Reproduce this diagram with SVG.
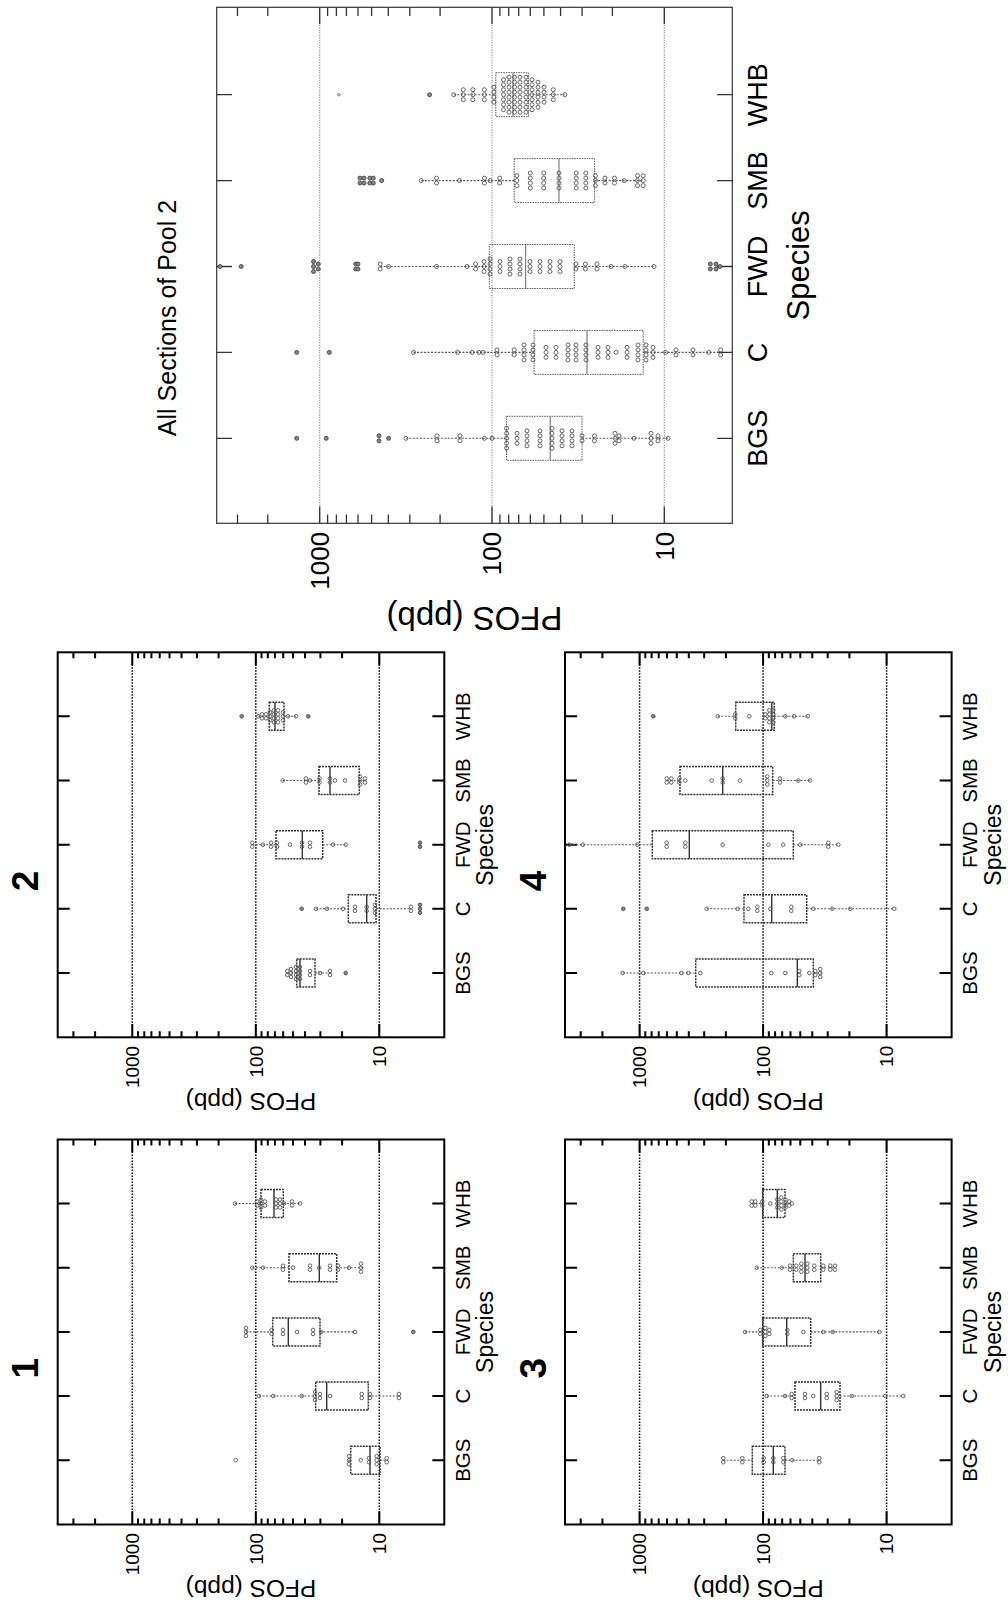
<svg xmlns="http://www.w3.org/2000/svg" xmlns:xlink="http://www.w3.org/1999/xlink" width="1008" height="1608" viewBox="0 0 1008 1608">
<style>
.fr{fill:none;stroke:#000;stroke-width:2}
.frb{fill:none;stroke:#333;stroke-width:1.2}
.tk{stroke:#000;stroke-width:2;fill:none}
.tkb{stroke:#333;stroke-width:1.3;fill:none}
.gd{stroke:#000;stroke-width:1.5;stroke-dasharray:1.5 1.5}
.gdb{stroke:#666;stroke-width:1;stroke-dasharray:1 1.5}
.bx{fill:none;stroke:#333;stroke-width:1.5;stroke-dasharray:2 1}
.bxb{fill:none;stroke:#555;stroke-width:1;stroke-dasharray:1.5 1}
.md{stroke:#333;stroke-width:1.4}
.wk{stroke:#555;stroke-width:1.1;stroke-dasharray:2 1.5}
.pts circle{fill:none;stroke:#555;stroke-width:.9}
.out circle{fill:#888;stroke:#444;stroke-width:.9}
text{font-family:"Liberation Sans",Arial,Helvetica,sans-serif;fill:#000}
.ax{font-size:19px;text-anchor:end}
.cat{font-size:20.5px;text-anchor:middle}
.sp{font-size:23px;text-anchor:middle}
.yl{font-size:24.5px;text-anchor:middle}
.ttl{font-size:37px;font-weight:bold;text-anchor:middle}
.axb{font-size:26px;text-anchor:end}
.catb{font-size:27px;text-anchor:middle}
.spb{font-size:31px;text-anchor:middle}
.ylb{font-size:33px;text-anchor:middle}
.ttlb{font-size:25px;text-anchor:middle}
</style>
<defs>
<g id="smallAxes">
<rect class="fr" x="57.7" y="652.3" width="386.6" height="385"/>
<path class="gd" d="M132.3 652.3V1037.3M255.8 652.3V1037.3M379.3 652.3V1037.3"/>
<path class="tk" d="M132.3 652.3v13.3M255.8 652.3v13.3M379.3 652.3v13.3M132.3 1037.3v-13.3M255.8 1037.3v-13.3M379.3 1037.3v-13.3
M73.4 652.3v6M95.1 652.3v6M138 652.3v6M144.3 652.3v6M151.4 652.3v6M159.7 652.3v6M169.5 652.3v6M181.5 652.3v6M196.9 652.3v6M218.6 652.3v6M261.5 652.3v6M267.8 652.3v6M274.9 652.3v6M283.2 652.3v6M293 652.3v6M305 652.3v6M320.4 652.3v6M342.1 652.3v6
M73.4 1037.3v-6M95.1 1037.3v-6M138 1037.3v-6M144.3 1037.3v-6M151.4 1037.3v-6M159.7 1037.3v-6M169.5 1037.3v-6M181.5 1037.3v-6M196.9 1037.3v-6M218.6 1037.3v-6M261.5 1037.3v-6M267.8 1037.3v-6M274.9 1037.3v-6M283.2 1037.3v-6M293 1037.3v-6M305 1037.3v-6M320.4 1037.3v-6M342.1 1037.3v-6
M57.7 716.3h12M57.7 780.5h12M57.7 844.7h12M57.7 908.8h12M57.7 973h12
M444.3 716.3h-12M444.3 780.5h-12M444.3 844.7h-12M444.3 908.8h-12M444.3 973h-12"/>
</g>
</defs>

<g id="panel-all">
<rect class="frb" x="216.7" y="7.3" width="515.6" height="516"/>
<path class="gdb" d="M319.7 7.3V523.3M492 7.3V523.3M664.3 7.3V523.3"/>
<path class="tkb" d="M319.7 7.3v16.7M492 7.3v16.7M664.3 7.3v16.7M319.7 523.3v-16.7M492 523.3v-16.7M664.3 523.3v-16.7
M237.5 7.3v8.7M267.8 7.3v8.7M327.6 7.3v8.7M336.4 7.3v8.7M346.4 7.3v8.7M358 7.3v8.7M371.6 7.3v8.7M388.3 7.3v8.7M409.8 7.3v8.7M440.1 7.3v8.7M499.9 7.3v8.7M508.7 7.3v8.7M518.7 7.3v8.7M530.3 7.3v8.7M543.9 7.3v8.7M560.6 7.3v8.7M582.1 7.3v8.7M612.4 7.3v8.7
M237.5 523.3v-8.7M267.8 523.3v-8.7M327.6 523.3v-8.7M336.4 523.3v-8.7M346.4 523.3v-8.7M358 523.3v-8.7M371.6 523.3v-8.7M388.3 523.3v-8.7M409.8 523.3v-8.7M440.1 523.3v-8.7M499.9 523.3v-8.7M508.7 523.3v-8.7M518.7 523.3v-8.7M530.3 523.3v-8.7M543.9 523.3v-8.7M560.6 523.3v-8.7M582.1 523.3v-8.7M612.4 523.3v-8.7
M216.7 94.7h15.3M216.7 180.6h15.3M216.7 266.5h15.3M216.7 352.4h15.3M216.7 438.3h15.3
M732.3 94.7h-15.3M732.3 180.6h-15.3M732.3 266.5h-15.3M732.3 352.4h-15.3M732.3 438.3h-15.3"/>
<g id="all-boxes">
<path class="wk" d="M453.7 94.7H495.8M528.4 94.7H564.8M421.2 180.6H514.2M594.6 180.6H643.2M380.2 266.5H489.3M574.3 266.5H654M413.5 352.4H534.1M643.2 352.4H720.6M405.9 438.3H506.6M582 438.3H668.1"/>
<rect class="bxb" x="495.8" y="72.7" width="32.6" height="44"/>
<rect class="bxb" x="514.2" y="158.6" width="80.4" height="44"/>
<rect class="bxb" x="489.3" y="244.5" width="85" height="44"/>
<rect class="bxb" x="534.1" y="330.4" width="109.1" height="44"/>
<rect class="bxb" x="506.6" y="416.3" width="75.4" height="44"/>
<path class="md" style="stroke:#666;stroke-width:1" d="M513 72.7V116.7M559 158.6V202.6M525.7 244.5V288.5M587 330.4V374.4M550.2 416.3V460.3"/>
</g>
<g class="pts">
<circle cx="453.7" cy="94.7" r="2"/>
<circle cx="463.3" cy="89.7" r="2"/><circle cx="463.3" cy="94.7" r="2"/><circle cx="463.3" cy="99.7" r="2"/>
<circle cx="472.9" cy="89.7" r="2"/><circle cx="472.9" cy="94.7" r="2"/><circle cx="472.9" cy="99.7" r="2"/>
<circle cx="484.4" cy="89.7" r="2"/><circle cx="484.4" cy="94.7" r="2"/><circle cx="484.4" cy="99.7" r="2"/>
<circle cx="493.9" cy="87.2" r="2"/><circle cx="493.9" cy="92.2" r="2"/><circle cx="493.9" cy="97.2" r="2"/><circle cx="493.9" cy="102.2" r="2"/>
<circle cx="503.5" cy="79.7" r="2"/><circle cx="503.5" cy="84.7" r="2"/><circle cx="503.5" cy="89.7" r="2"/><circle cx="503.5" cy="94.7" r="2"/><circle cx="503.5" cy="99.7" r="2"/><circle cx="503.5" cy="104.7" r="2"/><circle cx="503.5" cy="109.7" r="2"/>
<circle cx="509" cy="77.2" r="2"/><circle cx="509" cy="82.2" r="2"/><circle cx="509" cy="87.2" r="2"/><circle cx="509" cy="92.2" r="2"/><circle cx="509" cy="97.2" r="2"/><circle cx="509" cy="102.2" r="2"/><circle cx="509" cy="107.2" r="2"/><circle cx="509" cy="112.2" r="2"/>
<circle cx="514.5" cy="77.2" r="2"/><circle cx="514.5" cy="82.2" r="2"/><circle cx="514.5" cy="87.2" r="2"/><circle cx="514.5" cy="92.2" r="2"/><circle cx="514.5" cy="97.2" r="2"/><circle cx="514.5" cy="102.2" r="2"/><circle cx="514.5" cy="107.2" r="2"/><circle cx="514.5" cy="112.2" r="2"/>
<circle cx="520" cy="77.2" r="2"/><circle cx="520" cy="82.2" r="2"/><circle cx="520" cy="87.2" r="2"/><circle cx="520" cy="92.2" r="2"/><circle cx="520" cy="97.2" r="2"/><circle cx="520" cy="102.2" r="2"/><circle cx="520" cy="107.2" r="2"/><circle cx="520" cy="112.2" r="2"/>
<circle cx="526" cy="77.2" r="2"/><circle cx="526" cy="82.2" r="2"/><circle cx="526" cy="87.2" r="2"/><circle cx="526" cy="92.2" r="2"/><circle cx="526" cy="97.2" r="2"/><circle cx="526" cy="102.2" r="2"/><circle cx="526" cy="107.2" r="2"/><circle cx="526" cy="112.2" r="2"/>
<circle cx="532" cy="79.7" r="2"/><circle cx="532" cy="84.7" r="2"/><circle cx="532" cy="89.7" r="2"/><circle cx="532" cy="94.7" r="2"/><circle cx="532" cy="99.7" r="2"/><circle cx="532" cy="104.7" r="2"/><circle cx="532" cy="109.7" r="2"/>
<circle cx="538" cy="82.2" r="2"/><circle cx="538" cy="87.2" r="2"/><circle cx="538" cy="92.2" r="2"/><circle cx="538" cy="97.2" r="2"/><circle cx="538" cy="102.2" r="2"/><circle cx="538" cy="107.2" r="2"/>
<circle cx="544" cy="87.2" r="2"/><circle cx="544" cy="92.2" r="2"/><circle cx="544" cy="97.2" r="2"/><circle cx="544" cy="102.2" r="2"/>
<circle cx="553.3" cy="89.7" r="2"/><circle cx="553.3" cy="94.7" r="2"/><circle cx="553.3" cy="99.7" r="2"/>
<circle cx="564.8" cy="94.7" r="2"/>
<circle cx="338.8" cy="94.7" r="1.2"/>
<circle cx="421.2" cy="180.6" r="2"/>
<circle cx="436.5" cy="178.1" r="2"/><circle cx="436.5" cy="183.1" r="2"/>
<circle cx="459.5" cy="180.6" r="2"/>
<circle cx="484.4" cy="178.1" r="2"/><circle cx="484.4" cy="183.1" r="2"/>
<circle cx="490.1" cy="180.6" r="2"/>
<circle cx="499.7" cy="178.1" r="2"/><circle cx="499.7" cy="183.1" r="2"/>
<circle cx="516.9" cy="175.6" r="2"/><circle cx="516.9" cy="180.6" r="2"/><circle cx="516.9" cy="185.6" r="2"/>
<circle cx="530.3" cy="173.1" r="2"/><circle cx="530.3" cy="178.1" r="2"/><circle cx="530.3" cy="183.1" r="2"/><circle cx="530.3" cy="188.1" r="2"/>
<circle cx="543.7" cy="173.1" r="2"/><circle cx="543.7" cy="178.1" r="2"/><circle cx="543.7" cy="183.1" r="2"/><circle cx="543.7" cy="188.1" r="2"/>
<circle cx="559" cy="173.1" r="2"/><circle cx="559" cy="178.1" r="2"/><circle cx="559" cy="183.1" r="2"/><circle cx="559" cy="188.1" r="2"/>
<circle cx="576.2" cy="173.1" r="2"/><circle cx="576.2" cy="178.1" r="2"/><circle cx="576.2" cy="183.1" r="2"/><circle cx="576.2" cy="188.1" r="2"/>
<circle cx="585.8" cy="173.1" r="2"/><circle cx="585.8" cy="178.1" r="2"/><circle cx="585.8" cy="183.1" r="2"/><circle cx="585.8" cy="188.1" r="2"/>
<circle cx="595.4" cy="175.6" r="2"/><circle cx="595.4" cy="180.6" r="2"/><circle cx="595.4" cy="185.6" r="2"/>
<circle cx="605" cy="178.1" r="2"/><circle cx="605" cy="183.1" r="2"/>
<circle cx="614.5" cy="178.1" r="2"/><circle cx="614.5" cy="183.1" r="2"/>
<circle cx="624.1" cy="180.6" r="2"/>
<circle cx="637.5" cy="175.6" r="2"/><circle cx="637.5" cy="180.6" r="2"/><circle cx="637.5" cy="185.6" r="2"/>
<circle cx="643.2" cy="175.6" r="2"/><circle cx="643.2" cy="180.6" r="2"/><circle cx="643.2" cy="185.6" r="2"/>
<circle cx="380.2" cy="264" r="2"/><circle cx="380.2" cy="269" r="2"/>
<circle cx="388.6" cy="266.5" r="2"/>
<circle cx="436.5" cy="266.5" r="2"/>
<circle cx="467" cy="266.5" r="2"/>
<circle cx="475.6" cy="264" r="2"/><circle cx="475.6" cy="269" r="2"/>
<circle cx="484" cy="261.5" r="2"/><circle cx="484" cy="266.5" r="2"/><circle cx="484" cy="271.5" r="2"/>
<circle cx="490" cy="259" r="2"/><circle cx="490" cy="264" r="2"/><circle cx="490" cy="269" r="2"/><circle cx="490" cy="274" r="2"/>
<circle cx="500" cy="261.5" r="2"/><circle cx="500" cy="266.5" r="2"/><circle cx="500" cy="271.5" r="2"/>
<circle cx="510" cy="259" r="2"/><circle cx="510" cy="264" r="2"/><circle cx="510" cy="269" r="2"/><circle cx="510" cy="274" r="2"/>
<circle cx="520" cy="259" r="2"/><circle cx="520" cy="264" r="2"/><circle cx="520" cy="269" r="2"/><circle cx="520" cy="274" r="2"/>
<circle cx="530" cy="261.5" r="2"/><circle cx="530" cy="266.5" r="2"/><circle cx="530" cy="271.5" r="2"/>
<circle cx="540" cy="261.5" r="2"/><circle cx="540" cy="266.5" r="2"/><circle cx="540" cy="271.5" r="2"/>
<circle cx="550" cy="261.5" r="2"/><circle cx="550" cy="266.5" r="2"/><circle cx="550" cy="271.5" r="2"/>
<circle cx="560" cy="261.5" r="2"/><circle cx="560" cy="266.5" r="2"/><circle cx="560" cy="271.5" r="2"/>
<circle cx="575.9" cy="264" r="2"/><circle cx="575.9" cy="269" r="2"/>
<circle cx="585.4" cy="264" r="2"/><circle cx="585.4" cy="269" r="2"/>
<circle cx="597" cy="264" r="2"/><circle cx="597" cy="269" r="2"/>
<circle cx="611" cy="266.5" r="2"/>
<circle cx="625" cy="266.5" r="2"/>
<circle cx="654" cy="266.5" r="2"/>
<circle cx="413.5" cy="352.4" r="2"/>
<circle cx="457.5" cy="352.4" r="2"/>
<circle cx="472" cy="352.4" r="2"/>
<circle cx="479" cy="352.4" r="2"/>
<circle cx="483" cy="352.4" r="2"/>
<circle cx="497" cy="349.9" r="2"/><circle cx="497" cy="354.9" r="2"/>
<circle cx="514.2" cy="349.9" r="2"/><circle cx="514.2" cy="354.9" r="2"/>
<circle cx="524" cy="344.9" r="2"/><circle cx="524" cy="349.9" r="2"/><circle cx="524" cy="354.9" r="2"/><circle cx="524" cy="359.9" r="2"/>
<circle cx="533" cy="344.9" r="2"/><circle cx="533" cy="349.9" r="2"/><circle cx="533" cy="354.9" r="2"/><circle cx="533" cy="359.9" r="2"/>
<circle cx="546" cy="347.4" r="2"/><circle cx="546" cy="352.4" r="2"/><circle cx="546" cy="357.4" r="2"/>
<circle cx="556" cy="347.4" r="2"/><circle cx="556" cy="352.4" r="2"/><circle cx="556" cy="357.4" r="2"/>
<circle cx="568" cy="344.9" r="2"/><circle cx="568" cy="349.9" r="2"/><circle cx="568" cy="354.9" r="2"/><circle cx="568" cy="359.9" r="2"/>
<circle cx="576" cy="344.9" r="2"/><circle cx="576" cy="349.9" r="2"/><circle cx="576" cy="354.9" r="2"/><circle cx="576" cy="359.9" r="2"/>
<circle cx="586" cy="344.9" r="2"/><circle cx="586" cy="349.9" r="2"/><circle cx="586" cy="354.9" r="2"/><circle cx="586" cy="359.9" r="2"/>
<circle cx="598" cy="347.4" r="2"/><circle cx="598" cy="352.4" r="2"/><circle cx="598" cy="357.4" r="2"/>
<circle cx="608" cy="347.4" r="2"/><circle cx="608" cy="352.4" r="2"/><circle cx="608" cy="357.4" r="2"/>
<circle cx="616" cy="352.4" r="2"/>
<circle cx="627" cy="347.4" r="2"/><circle cx="627" cy="352.4" r="2"/><circle cx="627" cy="357.4" r="2"/>
<circle cx="638" cy="344.9" r="2"/><circle cx="638" cy="349.9" r="2"/><circle cx="638" cy="354.9" r="2"/><circle cx="638" cy="359.9" r="2"/>
<circle cx="646" cy="344.9" r="2"/><circle cx="646" cy="349.9" r="2"/><circle cx="646" cy="354.9" r="2"/><circle cx="646" cy="359.9" r="2"/>
<circle cx="653" cy="347.4" r="2"/><circle cx="653" cy="352.4" r="2"/><circle cx="653" cy="357.4" r="2"/>
<circle cx="665.5" cy="352.4" r="2"/>
<circle cx="676" cy="349.9" r="2"/><circle cx="676" cy="354.9" r="2"/>
<circle cx="693" cy="349.9" r="2"/><circle cx="693" cy="354.9" r="2"/>
<circle cx="708.6" cy="352.4" r="2"/>
<circle cx="720.6" cy="349.9" r="2"/><circle cx="720.6" cy="354.9" r="2"/>
<circle cx="405.9" cy="438.3" r="2"/>
<circle cx="437" cy="435.8" r="2"/><circle cx="437" cy="440.8" r="2"/>
<circle cx="460" cy="435.8" r="2"/><circle cx="460" cy="440.8" r="2"/>
<circle cx="484.4" cy="438.3" r="2"/>
<circle cx="492" cy="438.3" r="2"/>
<circle cx="506.6" cy="428.3" r="2"/><circle cx="506.6" cy="433.3" r="2"/><circle cx="506.6" cy="438.3" r="2"/><circle cx="506.6" cy="443.3" r="2"/><circle cx="506.6" cy="448.3" r="2"/>
<circle cx="517" cy="433.3" r="2"/><circle cx="517" cy="438.3" r="2"/><circle cx="517" cy="443.3" r="2"/>
<circle cx="527" cy="430.8" r="2"/><circle cx="527" cy="435.8" r="2"/><circle cx="527" cy="440.8" r="2"/><circle cx="527" cy="445.8" r="2"/>
<circle cx="540" cy="430.8" r="2"/><circle cx="540" cy="435.8" r="2"/><circle cx="540" cy="440.8" r="2"/><circle cx="540" cy="445.8" r="2"/>
<circle cx="552" cy="428.3" r="2"/><circle cx="552" cy="433.3" r="2"/><circle cx="552" cy="438.3" r="2"/><circle cx="552" cy="443.3" r="2"/><circle cx="552" cy="448.3" r="2"/>
<circle cx="562" cy="430.8" r="2"/><circle cx="562" cy="435.8" r="2"/><circle cx="562" cy="440.8" r="2"/><circle cx="562" cy="445.8" r="2"/>
<circle cx="572" cy="430.8" r="2"/><circle cx="572" cy="435.8" r="2"/><circle cx="572" cy="440.8" r="2"/><circle cx="572" cy="445.8" r="2"/>
<circle cx="582" cy="435.8" r="2"/><circle cx="582" cy="440.8" r="2"/>
<circle cx="594.4" cy="435.8" r="2"/><circle cx="594.4" cy="440.8" r="2"/>
<circle cx="615" cy="433.3" r="2"/><circle cx="615" cy="438.3" r="2"/><circle cx="615" cy="443.3" r="2"/>
<circle cx="619" cy="435.8" r="2"/><circle cx="619" cy="440.8" r="2"/>
<circle cx="634" cy="438.3" r="2"/>
<circle cx="651" cy="433.3" r="2"/><circle cx="651" cy="438.3" r="2"/><circle cx="651" cy="443.3" r="2"/>
<circle cx="658" cy="435.8" r="2"/><circle cx="658" cy="440.8" r="2"/>
<circle cx="668.1" cy="438.3" r="2"/>
</g>
<g class="out">
<circle cx="429.6" cy="94.7" r="2"/>
<circle cx="360" cy="178.1" r="2"/><circle cx="360" cy="183.1" r="2"/><circle cx="364" cy="178.1" r="2"/><circle cx="364" cy="183.1" r="2"/><circle cx="369.8" cy="178.1" r="2"/><circle cx="369.8" cy="183.1" r="2"/><circle cx="373.3" cy="178.1" r="2"/><circle cx="373.3" cy="183.1" r="2"/><circle cx="381.7" cy="180.6" r="2"/>
<circle cx="220.1" cy="266.5" r="2"/><circle cx="241.2" cy="266.5" r="2"/><circle cx="313.5" cy="261.5" r="2"/><circle cx="313.5" cy="266.5" r="2"/><circle cx="313.5" cy="271.5" r="2"/><circle cx="318.3" cy="264" r="2"/><circle cx="318.3" cy="269" r="2"/><circle cx="355.7" cy="264" r="2"/><circle cx="355.7" cy="269" r="2"/><circle cx="358" cy="264" r="2"/><circle cx="358" cy="269" r="2"/><circle cx="710.3" cy="264" r="2"/><circle cx="710.3" cy="269" r="2"/><circle cx="716" cy="264" r="2"/><circle cx="716" cy="269" r="2"/><circle cx="720" cy="266.5" r="2"/>
<circle cx="296.7" cy="352.4" r="2"/><circle cx="329.3" cy="352.4" r="2"/>
<circle cx="296.7" cy="438.3" r="2"/><circle cx="326.2" cy="438.3" r="2"/><circle cx="379" cy="435.8" r="2"/><circle cx="379" cy="440.8" r="2"/><circle cx="388.6" cy="438.3" r="2"/>
</g>
<text class="ttlb" transform="translate(176,318) rotate(-90)">All Sections of Pool 2</text>
<text class="axb" transform="translate(329,531.8) rotate(-90)">1000</text>
<text class="axb" transform="translate(501.3,531.8) rotate(-90)">100</text>
<text class="axb" transform="translate(673.6,531.8) rotate(-90)">10</text>
<text class="ylb" transform="translate(474.5,607) rotate(180)">PFOS (ppb)</text>
<text class="catb" transform="translate(766.5,438.3) rotate(-90)">BGS</text>
<text class="catb" transform="translate(766.5,352.4) rotate(-90)">C</text>
<text class="catb" transform="translate(766.5,266.5) rotate(-90)">FWD</text>
<text class="catb" transform="translate(766.5,180.6) rotate(-90)">SMB</text>
<text class="catb" transform="translate(766.5,94.7) rotate(-90)">WHB</text>
<text class="spb" transform="translate(809,265.3) rotate(-90)">Species</text>
</g>

<g id="panel-2">
<use xlink:href="#smallAxes" href="#smallAxes"/>
<path class="wk" d="M258.3 716.3H269.3M284 716.3H296M282.7 780.5H319M359.3 780.5H366.7M252.3 844.7H276M322.7 844.7H345.7M316 908.8H348.3M376 908.8H411M287.3 973H296.7M315 973H331.7"/>
<rect class="bx" x="269.3" y="702.3" width="14.7" height="28"/>
<rect class="bx" x="319" y="766.5" width="40.3" height="28"/>
<rect class="bx" x="276" y="830.7" width="46.7" height="28"/>
<rect class="bx" x="348.3" y="894.8" width="27.7" height="28"/>
<rect class="bx" x="296.7" y="959" width="18.3" height="28"/>
<path class="md" d="M275 702.3V730.3M330 766.5V794.5M302.3 830.7V858.7M366.7 894.8V922.8M300 959V987"/>
<g class="pts">
<circle cx="258.3" cy="716.3" r="1.8"/><circle cx="262" cy="714.3" r="1.8"/><circle cx="262" cy="718.3" r="1.8"/><circle cx="266" cy="714.3" r="1.8"/><circle cx="266" cy="718.3" r="1.8"/><circle cx="270" cy="712.3" r="1.8"/><circle cx="270" cy="716.3" r="1.8"/><circle cx="270" cy="720.3" r="1.8"/><circle cx="274" cy="710.3" r="1.8"/><circle cx="274" cy="714.3" r="1.8"/><circle cx="274" cy="718.3" r="1.8"/><circle cx="274" cy="722.3" r="1.8"/><circle cx="278" cy="710.3" r="1.8"/><circle cx="278" cy="714.3" r="1.8"/><circle cx="278" cy="718.3" r="1.8"/><circle cx="278" cy="722.3" r="1.8"/><circle cx="283" cy="712.3" r="1.8"/><circle cx="283" cy="716.3" r="1.8"/><circle cx="283" cy="720.3" r="1.8"/><circle cx="288" cy="716.3" r="1.8"/><circle cx="296" cy="716.3" r="1.8"/>
<circle cx="282.7" cy="780.5" r="1.8"/><circle cx="306" cy="778.5" r="1.8"/><circle cx="306" cy="782.5" r="1.8"/><circle cx="310" cy="780.5" r="1.8"/><circle cx="319.5" cy="778.5" r="1.8"/><circle cx="319.5" cy="782.5" r="1.8"/><circle cx="330" cy="778.5" r="1.8"/><circle cx="330" cy="782.5" r="1.8"/><circle cx="335" cy="780.5" r="1.8"/><circle cx="345" cy="780.5" r="1.8"/><circle cx="360" cy="776.5" r="1.8"/><circle cx="360" cy="780.5" r="1.8"/><circle cx="360" cy="784.5" r="1.8"/><circle cx="365" cy="778.5" r="1.8"/><circle cx="365" cy="782.5" r="1.8"/>
<circle cx="252.3" cy="842.7" r="1.8"/><circle cx="252.3" cy="846.7" r="1.8"/><circle cx="263" cy="844.7" r="1.8"/><circle cx="271" cy="842.7" r="1.8"/><circle cx="271" cy="846.7" r="1.8"/><circle cx="277" cy="842.7" r="1.8"/><circle cx="277" cy="846.7" r="1.8"/><circle cx="290" cy="844.7" r="1.8"/><circle cx="302" cy="842.7" r="1.8"/><circle cx="302" cy="846.7" r="1.8"/><circle cx="310" cy="842.7" r="1.8"/><circle cx="310" cy="846.7" r="1.8"/><circle cx="333" cy="844.7" r="1.8"/><circle cx="345.7" cy="844.7" r="1.8"/>
<circle cx="316" cy="908.8" r="1.8"/><circle cx="327" cy="908.8" r="1.8"/><circle cx="343" cy="908.8" r="1.8"/><circle cx="355" cy="906.8" r="1.8"/><circle cx="355" cy="910.8" r="1.8"/><circle cx="366.7" cy="906.8" r="1.8"/><circle cx="366.7" cy="910.8" r="1.8"/><circle cx="375" cy="904.8" r="1.8"/><circle cx="375" cy="908.8" r="1.8"/><circle cx="375" cy="912.8" r="1.8"/><circle cx="411" cy="906.8" r="1.8"/><circle cx="411" cy="910.8" r="1.8"/>
<circle cx="287.3" cy="971" r="1.8"/><circle cx="287.3" cy="975" r="1.8"/><circle cx="291" cy="969" r="1.8"/><circle cx="291" cy="973" r="1.8"/><circle cx="291" cy="977" r="1.8"/><circle cx="296" cy="967" r="1.8"/><circle cx="296" cy="971" r="1.8"/><circle cx="296" cy="975" r="1.8"/><circle cx="296" cy="979" r="1.8"/><circle cx="300" cy="967" r="1.8"/><circle cx="300" cy="971" r="1.8"/><circle cx="300" cy="975" r="1.8"/><circle cx="300" cy="979" r="1.8"/><circle cx="310" cy="971" r="1.8"/><circle cx="310" cy="975" r="1.8"/><circle cx="320" cy="973" r="1.8"/><circle cx="330" cy="971" r="1.8"/><circle cx="330" cy="975" r="1.8"/>
</g>
<g class="out">
<circle cx="241.7" cy="716.3" r="1.8"/><circle cx="308.3" cy="716.3" r="1.8"/><circle cx="420" cy="842.7" r="1.8"/><circle cx="420" cy="846.7" r="1.8"/><circle cx="301.7" cy="908.8" r="1.8"/><circle cx="420" cy="904.8" r="1.8"/><circle cx="420" cy="908.8" r="1.8"/><circle cx="420" cy="912.8" r="1.8"/><circle cx="345.7" cy="973" r="1.8"/>
</g>
<text class="ttl" transform="translate(38.3,881) rotate(-90)">2</text>
<text class="ax" transform="translate(139.1,1045.8) rotate(-90)">1000</text>
<text class="ax" transform="translate(262.6,1045.8) rotate(-90)">100</text>
<text class="ax" transform="translate(386.1,1045.8) rotate(-90)">10</text>
<text class="yl" transform="translate(251,1092.8) rotate(180)">PFOS (ppb)</text>
<text class="cat" transform="translate(470,973) rotate(-90)">BGS</text>
<text class="cat" transform="translate(470,908.8) rotate(-90)">C</text>
<text class="cat" transform="translate(470,844.7) rotate(-90)">FWD</text>
<text class="cat" transform="translate(470,780.5) rotate(-90)">SMB</text>
<text class="cat" transform="translate(470,716.3) rotate(-90)">WHB</text>
<text class="sp" transform="translate(493.2,844.8) rotate(-90)">Species</text>
</g>

<g id="panel-4" transform="translate(507.3,0)">
<use xlink:href="#smallAxes" href="#smallAxes"/>
<path class="wk" d="M210.4 716.3H228.4M267 716.3H300.4M159.4 780.5H172.7M265.4 780.5H302.7M62 844.7H145M286 844.7H331M199.4 908.8H236.7M299.4 908.8H387M115.4 973H188.4M306 973H316"/>
<rect class="bx" x="228.4" y="702.3" width="38.6" height="28"/>
<rect class="bx" x="172.7" y="766.5" width="92.7" height="28"/>
<rect class="bx" x="145" y="830.7" width="141" height="28"/>
<rect class="bx" x="236.7" y="894.8" width="62.7" height="28"/>
<rect class="bx" x="188.4" y="959" width="117.6" height="28"/>
<path class="md" d="M264.5 702.3V730.3M215.4 766.5V794.5M182 830.7V858.7M264.4 894.8V922.8M290 959V987"/>
<g class="pts">
<circle cx="210.4" cy="716.3" r="1.8"/><circle cx="228" cy="714.3" r="1.8"/><circle cx="228" cy="718.3" r="1.8"/><circle cx="242" cy="716.3" r="1.8"/><circle cx="258" cy="714.3" r="1.8"/><circle cx="258" cy="718.3" r="1.8"/><circle cx="262" cy="710.3" r="1.8"/><circle cx="262" cy="714.3" r="1.8"/><circle cx="262" cy="718.3" r="1.8"/><circle cx="262" cy="722.3" r="1.8"/><circle cx="266" cy="710.3" r="1.8"/><circle cx="266" cy="714.3" r="1.8"/><circle cx="266" cy="718.3" r="1.8"/><circle cx="266" cy="722.3" r="1.8"/><circle cx="278" cy="716.3" r="1.8"/><circle cx="286.7" cy="716.3" r="1.8"/><circle cx="300.4" cy="716.3" r="1.8"/>
<circle cx="159.4" cy="778.5" r="1.8"/><circle cx="159.4" cy="782.5" r="1.8"/><circle cx="164" cy="778.5" r="1.8"/><circle cx="164" cy="782.5" r="1.8"/><circle cx="172" cy="778.5" r="1.8"/><circle cx="172" cy="782.5" r="1.8"/><circle cx="178" cy="780.5" r="1.8"/><circle cx="204.4" cy="780.5" r="1.8"/><circle cx="215.4" cy="778.5" r="1.8"/><circle cx="215.4" cy="782.5" r="1.8"/><circle cx="232.7" cy="780.5" r="1.8"/><circle cx="260" cy="776.5" r="1.8"/><circle cx="260" cy="780.5" r="1.8"/><circle cx="260" cy="784.5" r="1.8"/><circle cx="272.7" cy="778.5" r="1.8"/><circle cx="272.7" cy="782.5" r="1.8"/><circle cx="291" cy="780.5" r="1.8"/><circle cx="302.7" cy="780.5" r="1.8"/>
<circle cx="62" cy="844.7" r="1.8"/><circle cx="75.4" cy="844.7" r="1.8"/><circle cx="130" cy="844.7" r="1.8"/><circle cx="159.4" cy="842.7" r="1.8"/><circle cx="159.4" cy="846.7" r="1.8"/><circle cx="178" cy="842.7" r="1.8"/><circle cx="178" cy="846.7" r="1.8"/><circle cx="215.4" cy="844.7" r="1.8"/><circle cx="261" cy="844.7" r="1.8"/><circle cx="276" cy="844.7" r="1.8"/><circle cx="293" cy="844.7" r="1.8"/><circle cx="321" cy="842.7" r="1.8"/><circle cx="321" cy="846.7" r="1.8"/><circle cx="331" cy="844.7" r="1.8"/>
<circle cx="199.4" cy="908.8" r="1.8"/><circle cx="230.4" cy="908.8" r="1.8"/><circle cx="241" cy="908.8" r="1.8"/><circle cx="250" cy="906.8" r="1.8"/><circle cx="250" cy="910.8" r="1.8"/><circle cx="263" cy="908.8" r="1.8"/><circle cx="284" cy="906.8" r="1.8"/><circle cx="284" cy="910.8" r="1.8"/><circle cx="306" cy="908.8" r="1.8"/><circle cx="325" cy="908.8" r="1.8"/><circle cx="343" cy="908.8" r="1.8"/><circle cx="387" cy="908.8" r="1.8"/>
<circle cx="115.4" cy="973" r="1.8"/><circle cx="136" cy="973" r="1.8"/><circle cx="174" cy="973" r="1.8"/><circle cx="181" cy="973" r="1.8"/><circle cx="193" cy="973" r="1.8"/><circle cx="264" cy="973" r="1.8"/><circle cx="278" cy="973" r="1.8"/><circle cx="292" cy="971" r="1.8"/><circle cx="292" cy="975" r="1.8"/><circle cx="302" cy="973" r="1.8"/><circle cx="308" cy="971" r="1.8"/><circle cx="308" cy="975" r="1.8"/><circle cx="313" cy="969" r="1.8"/><circle cx="313" cy="973" r="1.8"/><circle cx="313" cy="977" r="1.8"/>
</g>
<g class="out">
<circle cx="146" cy="716.3" r="1.8"/><circle cx="116" cy="908.8" r="1.8"/><circle cx="139.4" cy="908.8" r="1.8"/>
</g>
<text class="ttl" transform="translate(38.3,881) rotate(-90)">4</text>
<text class="ax" transform="translate(139.1,1045.8) rotate(-90)">1000</text>
<text class="ax" transform="translate(262.6,1045.8) rotate(-90)">100</text>
<text class="ax" transform="translate(386.1,1045.8) rotate(-90)">10</text>
<text class="cat" transform="translate(470,973) rotate(-90)">BGS</text>
<text class="cat" transform="translate(470,908.8) rotate(-90)">C</text>
<text class="cat" transform="translate(470,844.7) rotate(-90)">FWD</text>
<text class="cat" transform="translate(470,780.5) rotate(-90)">SMB</text>
<text class="cat" transform="translate(470,716.3) rotate(-90)">WHB</text>
<text class="sp" transform="translate(493.2,844.8) rotate(-90)">Species</text>
<text class="yl" transform="translate(251,1092.8) rotate(180)">PFOS (ppb)</text>
</g>

<g id="panel-1" transform="translate(0,487.2)">
<use xlink:href="#smallAxes" href="#smallAxes"/>
<path class="wk" d="M235 716.3H261M283.3 716.3H300M252.3 780.5H289M336.7 780.5H363.3M246 844.7H272.7M320 844.7H355M259 908.8H315.7M368.3 908.8H399M348 973H350.7M380 973H388"/>
<rect class="bx" x="261" y="702.3" width="22.3" height="28"/>
<rect class="bx" x="289" y="766.5" width="47.7" height="28"/>
<rect class="bx" x="272.7" y="830.7" width="47.3" height="28"/>
<rect class="bx" x="315.7" y="894.8" width="52.6" height="28"/>
<rect class="bx" x="350.7" y="959" width="29.3" height="28"/>
<path class="md" d="M274 702.3V730.3M319.3 766.5V794.5M288.3 830.7V858.7M326.7 894.8V922.8M370 959V987"/>
<g class="pts">
<circle cx="235" cy="716.3" r="1.8"/><circle cx="257" cy="714.3" r="1.8"/><circle cx="257" cy="718.3" r="1.8"/><circle cx="261" cy="712.3" r="1.8"/><circle cx="261" cy="716.3" r="1.8"/><circle cx="261" cy="720.3" r="1.8"/><circle cx="265" cy="714.3" r="1.8"/><circle cx="265" cy="718.3" r="1.8"/><circle cx="276" cy="712.3" r="1.8"/><circle cx="276" cy="716.3" r="1.8"/><circle cx="276" cy="720.3" r="1.8"/><circle cx="280" cy="712.3" r="1.8"/><circle cx="280" cy="716.3" r="1.8"/><circle cx="280" cy="720.3" r="1.8"/><circle cx="284" cy="716.3" r="1.8"/><circle cx="292" cy="714.3" r="1.8"/><circle cx="292" cy="718.3" r="1.8"/><circle cx="300" cy="716.3" r="1.8"/>
<circle cx="252.3" cy="780.5" r="1.8"/><circle cx="263" cy="780.5" r="1.8"/><circle cx="283" cy="778.5" r="1.8"/><circle cx="283" cy="782.5" r="1.8"/><circle cx="293" cy="780.5" r="1.8"/><circle cx="310" cy="778.5" r="1.8"/><circle cx="310" cy="782.5" r="1.8"/><circle cx="319.3" cy="780.5" r="1.8"/><circle cx="330" cy="778.5" r="1.8"/><circle cx="330" cy="782.5" r="1.8"/><circle cx="338" cy="778.5" r="1.8"/><circle cx="338" cy="782.5" r="1.8"/><circle cx="349" cy="780.5" r="1.8"/><circle cx="361" cy="776.5" r="1.8"/><circle cx="361" cy="780.5" r="1.8"/><circle cx="361" cy="784.5" r="1.8"/>
<circle cx="246" cy="840.7" r="1.8"/><circle cx="246" cy="844.7" r="1.8"/><circle cx="246" cy="848.7" r="1.8"/><circle cx="271.7" cy="842.7" r="1.8"/><circle cx="271.7" cy="846.7" r="1.8"/><circle cx="283" cy="842.7" r="1.8"/><circle cx="283" cy="846.7" r="1.8"/><circle cx="297" cy="844.7" r="1.8"/><circle cx="313" cy="842.7" r="1.8"/><circle cx="313" cy="846.7" r="1.8"/><circle cx="321" cy="844.7" r="1.8"/><circle cx="355" cy="844.7" r="1.8"/>
<circle cx="259" cy="908.8" r="1.8"/><circle cx="273.3" cy="908.8" r="1.8"/><circle cx="301.7" cy="908.8" r="1.8"/><circle cx="315" cy="904.8" r="1.8"/><circle cx="315" cy="908.8" r="1.8"/><circle cx="315" cy="912.8" r="1.8"/><circle cx="320" cy="906.8" r="1.8"/><circle cx="320" cy="910.8" r="1.8"/><circle cx="330" cy="908.8" r="1.8"/><circle cx="361.7" cy="906.8" r="1.8"/><circle cx="361.7" cy="910.8" r="1.8"/><circle cx="370" cy="906.8" r="1.8"/><circle cx="370" cy="910.8" r="1.8"/><circle cx="399" cy="906.8" r="1.8"/><circle cx="399" cy="910.8" r="1.8"/>
<circle cx="349" cy="969" r="1.8"/><circle cx="349" cy="973" r="1.8"/><circle cx="349" cy="977" r="1.8"/><circle cx="360.7" cy="973" r="1.8"/><circle cx="369" cy="971" r="1.8"/><circle cx="369" cy="975" r="1.8"/><circle cx="376.7" cy="969" r="1.8"/><circle cx="376.7" cy="973" r="1.8"/><circle cx="376.7" cy="977" r="1.8"/><circle cx="386.7" cy="971" r="1.8"/><circle cx="386.7" cy="975" r="1.8"/>
<circle cx="235.7" cy="973" r="1.8"/>
</g>
<g class="out">
<circle cx="413.3" cy="844.7" r="1.8"/>
</g>
<text class="ttl" transform="translate(38.3,881) rotate(-90)">1</text>
<text class="ax" transform="translate(139.1,1045.8) rotate(-90)">1000</text>
<text class="ax" transform="translate(262.6,1045.8) rotate(-90)">100</text>
<text class="ax" transform="translate(386.1,1045.8) rotate(-90)">10</text>
<text class="cat" transform="translate(470,973) rotate(-90)">BGS</text>
<text class="cat" transform="translate(470,908.8) rotate(-90)">C</text>
<text class="cat" transform="translate(470,844.7) rotate(-90)">FWD</text>
<text class="cat" transform="translate(470,780.5) rotate(-90)">SMB</text>
<text class="cat" transform="translate(470,716.3) rotate(-90)">WHB</text>
<text class="sp" transform="translate(493.2,844.8) rotate(-90)">Species</text>
<text class="yl" transform="translate(251,1092.8) rotate(180)">PFOS (ppb)</text>
</g>

<g id="panel-3" transform="translate(507.3,487.2)">
<use xlink:href="#smallAxes" href="#smallAxes"/>
<path class="wk" d="M244.4 716.3H255.4M277.7 716.3H284.4M249.4 780.5H286M313.4 780.5H327.7M237.7 844.7H255.4M303.4 844.7H372M259.4 908.8H287.7M332.7 908.8H396M216 973H245M277.7 973H312"/>
<rect class="bx" x="255.4" y="702.3" width="22.3" height="28"/>
<rect class="bx" x="286" y="766.5" width="27.4" height="28"/>
<rect class="bx" x="255.4" y="830.7" width="48" height="28"/>
<rect class="bx" x="287.7" y="894.8" width="45" height="28"/>
<rect class="bx" x="245" y="959" width="32.7" height="28"/>
<path class="md" d="M270 702.3V730.3M297.7 766.5V794.5M279.4 830.7V858.7M313.4 894.8V922.8M266 959V987"/>
<g class="pts">
<circle cx="244.4" cy="714.3" r="1.8"/><circle cx="244.4" cy="718.3" r="1.8"/><circle cx="248" cy="714.3" r="1.8"/><circle cx="248" cy="718.3" r="1.8"/><circle cx="255" cy="714.3" r="1.8"/><circle cx="255" cy="718.3" r="1.8"/><circle cx="263" cy="716.3" r="1.8"/><circle cx="270" cy="712.3" r="1.8"/><circle cx="270" cy="716.3" r="1.8"/><circle cx="270" cy="720.3" r="1.8"/><circle cx="274" cy="710.3" r="1.8"/><circle cx="274" cy="714.3" r="1.8"/><circle cx="274" cy="718.3" r="1.8"/><circle cx="274" cy="722.3" r="1.8"/><circle cx="278" cy="712.3" r="1.8"/><circle cx="278" cy="716.3" r="1.8"/><circle cx="278" cy="720.3" r="1.8"/><circle cx="282" cy="714.3" r="1.8"/><circle cx="282" cy="718.3" r="1.8"/><circle cx="284.4" cy="716.3" r="1.8"/>
<circle cx="249.4" cy="780.5" r="1.8"/><circle cx="274.4" cy="780.5" r="1.8"/><circle cx="282.7" cy="778.5" r="1.8"/><circle cx="282.7" cy="782.5" r="1.8"/><circle cx="289" cy="778.5" r="1.8"/><circle cx="289" cy="782.5" r="1.8"/><circle cx="294" cy="776.5" r="1.8"/><circle cx="294" cy="780.5" r="1.8"/><circle cx="294" cy="784.5" r="1.8"/><circle cx="300" cy="776.5" r="1.8"/><circle cx="300" cy="780.5" r="1.8"/><circle cx="300" cy="784.5" r="1.8"/><circle cx="307" cy="778.5" r="1.8"/><circle cx="307" cy="782.5" r="1.8"/><circle cx="316" cy="778.5" r="1.8"/><circle cx="316" cy="782.5" r="1.8"/><circle cx="323" cy="778.5" r="1.8"/><circle cx="323" cy="782.5" r="1.8"/><circle cx="327.7" cy="778.5" r="1.8"/><circle cx="327.7" cy="782.5" r="1.8"/>
<circle cx="237.7" cy="844.7" r="1.8"/><circle cx="253" cy="842.7" r="1.8"/><circle cx="253" cy="846.7" r="1.8"/><circle cx="258" cy="840.7" r="1.8"/><circle cx="258" cy="844.7" r="1.8"/><circle cx="258" cy="848.7" r="1.8"/><circle cx="262" cy="842.7" r="1.8"/><circle cx="262" cy="846.7" r="1.8"/><circle cx="280" cy="842.7" r="1.8"/><circle cx="280" cy="846.7" r="1.8"/><circle cx="296" cy="844.7" r="1.8"/><circle cx="316" cy="844.7" r="1.8"/><circle cx="325.4" cy="844.7" r="1.8"/><circle cx="372" cy="844.7" r="1.8"/>
<circle cx="259.4" cy="908.8" r="1.8"/><circle cx="277.7" cy="908.8" r="1.8"/><circle cx="284.4" cy="906.8" r="1.8"/><circle cx="284.4" cy="910.8" r="1.8"/><circle cx="297.7" cy="906.8" r="1.8"/><circle cx="297.7" cy="910.8" r="1.8"/><circle cx="306" cy="908.8" r="1.8"/><circle cx="319.4" cy="906.8" r="1.8"/><circle cx="319.4" cy="910.8" r="1.8"/><circle cx="329.4" cy="904.8" r="1.8"/><circle cx="329.4" cy="908.8" r="1.8"/><circle cx="329.4" cy="912.8" r="1.8"/><circle cx="344.4" cy="908.8" r="1.8"/><circle cx="378" cy="908.8" r="1.8"/><circle cx="396" cy="908.8" r="1.8"/>
<circle cx="216" cy="971" r="1.8"/><circle cx="216" cy="975" r="1.8"/><circle cx="235" cy="971" r="1.8"/><circle cx="235" cy="975" r="1.8"/><circle cx="256.4" cy="971" r="1.8"/><circle cx="256.4" cy="975" r="1.8"/><circle cx="266" cy="971" r="1.8"/><circle cx="266" cy="975" r="1.8"/><circle cx="276" cy="971" r="1.8"/><circle cx="276" cy="975" r="1.8"/><circle cx="285" cy="973" r="1.8"/><circle cx="312" cy="971" r="1.8"/><circle cx="312" cy="975" r="1.8"/>
</g>
<text class="ttl" transform="translate(38.3,881) rotate(-90)">3</text>
<text class="ax" transform="translate(139.1,1045.8) rotate(-90)">1000</text>
<text class="ax" transform="translate(262.6,1045.8) rotate(-90)">100</text>
<text class="ax" transform="translate(386.1,1045.8) rotate(-90)">10</text>
<text class="cat" transform="translate(470,973) rotate(-90)">BGS</text>
<text class="cat" transform="translate(470,908.8) rotate(-90)">C</text>
<text class="cat" transform="translate(470,844.7) rotate(-90)">FWD</text>
<text class="cat" transform="translate(470,780.5) rotate(-90)">SMB</text>
<text class="cat" transform="translate(470,716.3) rotate(-90)">WHB</text>
<text class="sp" transform="translate(493.2,844.8) rotate(-90)">Species</text>
<text class="yl" transform="translate(251,1092.8) rotate(180)">PFOS (ppb)</text>
</g>
</svg>
